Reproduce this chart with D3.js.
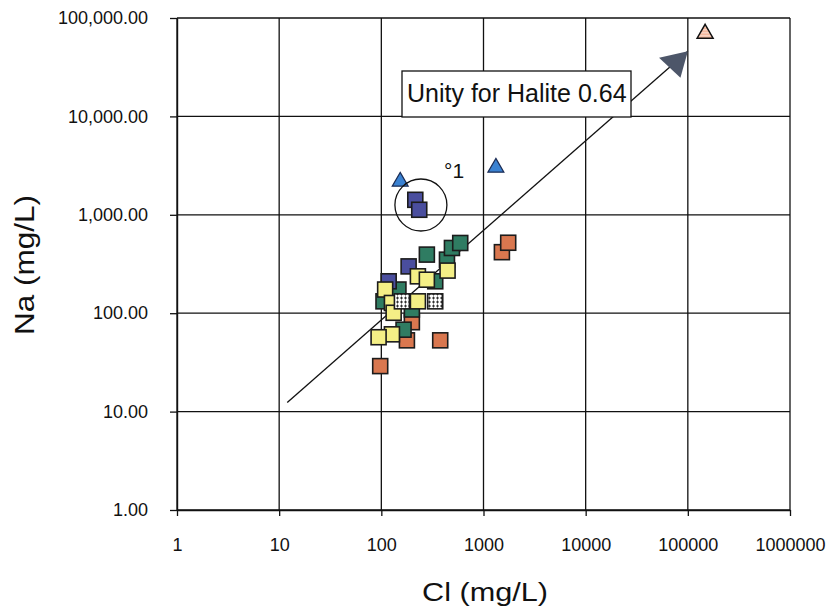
<!DOCTYPE html>
<html>
<head>
<meta charset="utf-8">
<script src="https://cdn.jsdelivr.net/npm/d3@7"></script>
<style>
  html, body { margin: 0; padding: 0; background: #fff; }
  svg { display: block; font-family: "Liberation Sans", Arial, Helvetica, sans-serif; }
</style>
</head>
<body>
<svg id="chart" width="830" height="609"></svg>
<script>
// Axis ticks (log decades)
const xTicks = [1, 10, 100, 1000, 10000, 100000, 1000000];
const yTicks = [1, 10, 100, 1000, 10000, 100000];

// Samples: [Cl mg/L, Na mg/L]
const blueSquares   = [[215, 1420], [235, 1125], [185, 299], [118, 211]];
const orangeSquares = [[199, 81], [178, 53], [377, 53], [97.5, 29], [1514, 417], [1745, 520]];
const greenSquares  = [[279, 394], [439, 350], [491, 460], [592, 517], [337, 211], [147, 174], [199, 109], [165, 68], [105, 132]];
const yellowSquares = [[445, 271], [228, 237], [279, 219], [109, 174], [127, 127], [228, 132], [132, 101], [127, 61], [94, 57]];
const whiteSquares  = [[159, 132], [337, 132]];
const blueTriangles   = [[153, 2177], [1322, 3017]];
const salmonTriangles = [[147600, 69500]];

// Halite reference line (start, arrow tip) and circled group centre
const haliteLine = [[12, 12.4], [100000, 46000]];
const circledGroup = [244, 1258];

const svg = d3.select("#chart");
const x = d3.scaleLog().domain([1, 1e6]).range([177, 790]);
const y = d3.scaleLog().domain([1, 1e5]).range([510, 18]);

const defs = svg.append("defs");
const hatch = defs.append("pattern").attr("id", "hatch")
  .attr("patternUnits", "userSpaceOnUse").attr("width", 4).attr("height", 4);
hatch.append("rect").attr("width", 4).attr("height", 4).attr("fill", "#fff");
hatch.append("path").attr("d", "M0,2H3M1.5,0.5V3.5").attr("stroke", "#222").attr("stroke-width", 0.9);

const stripes = defs.append("pattern").attr("id", "stripes")
  .attr("patternUnits", "userSpaceOnUse").attr("width", 4).attr("height", 3);
stripes.append("rect").attr("width", 4).attr("height", 3).attr("fill", "#f2a888");
stripes.append("rect").attr("y", 1.6).attr("width", 4).attr("height", 1).attr("fill", "#fff");

defs.append("marker").attr("id", "arrow")
  .attr("markerUnits", "userSpaceOnUse")
  .attr("viewBox", "-28 -16 30 32")
  .attr("markerWidth", 30).attr("markerHeight", 32)
  .attr("refX", 0).attr("refY", 0).attr("orient", "auto")
  .append("path").attr("d", "M0,0L-26,-14L-23,15Z").attr("fill", "#4d5669");

// Grid
const grid = svg.append("g").attr("stroke", "#111").attr("stroke-width", 1.3);
grid.selectAll("line.v").data(xTicks).join("line")
  .attr("x1", d => x(d)).attr("x2", d => x(d))
  .attr("y1", y(1e5)).attr("y2", y(1));
grid.selectAll("line.h").data(yTicks).join("line")
  .attr("y1", d => y(d)).attr("y2", d => y(d))
  .attr("x1", x(1)).attr("x2", x(1e6));

// Axes
const yAxis = svg.append("g").attr("transform", `translate(${x(1)},0)`)
  .call(d3.axisLeft(y).tickValues(yTicks).tickFormat(d3.format(",.2f")).tickSizeInner(7).tickSizeOuter(0).tickPadding(22));
const xAxis = svg.append("g").attr("transform", `translate(0,${y(1)})`)
  .call(d3.axisBottom(x).tickValues(xTicks).tickFormat(d3.format("d")).tickSizeInner(6).tickSizeOuter(0).tickPadding(22));
[yAxis, xAxis].forEach(a => {
  a.select(".domain").attr("stroke", "#111").attr("stroke-width", 1.4);
  a.selectAll(".tick line").attr("stroke", "#111").attr("stroke-width", 1.3);
  a.selectAll(".tick text").attr("fill", "#111").style("font-size", "18px")
    .style("font-family", "'Liberation Sans', Arial, sans-serif");
});

// Axis titles
svg.append("text")
  .attr("transform", `translate(34,265) rotate(-90)`)
  .attr("text-anchor", "middle").attr("fill", "#111")
  .attr("textLength", 140).attr("lengthAdjust", "spacingAndGlyphs")
  .style("font-size", "27px").text("Na (mg/L)");
svg.append("text")
  .attr("x", 485).attr("y", 601)
  .attr("text-anchor", "middle").attr("fill", "#111")
  .attr("textLength", 126).attr("lengthAdjust", "spacingAndGlyphs")
  .style("font-size", "26px").text("Cl (mg/L)");

// Halite unity line with arrow
svg.append("line")
  .attr("x1", x(haliteLine[0][0])).attr("y1", y(haliteLine[0][1]))
  .attr("x2", x(haliteLine[1][0])).attr("y2", y(haliteLine[1][1]))
  .attr("stroke", "#111").attr("stroke-width", 1.3)
  .attr("marker-end", "url(#arrow)");

// Label box
svg.append("rect").attr("x", 402).attr("y", 71).attr("width", 229).attr("height", 46)
  .attr("fill", "#fff").attr("stroke", "#111").attr("stroke-width", 1.3);
svg.append("text").attr("x", 407).attr("y", 102).attr("fill", "#111")
  .style("font-size", "25px").text("Unity for Halite 0.64");

// Sample squares
const sq = 15;
function squares(data, fill) {
  svg.append("g").selectAll("rect").data(data).join("rect")
    .attr("x", d => x(d[0]) - sq / 2).attr("y", d => y(d[1]) - sq / 2)
    .attr("width", sq).attr("height", sq)
    .attr("fill", fill).attr("stroke", "#1c1c1c").attr("stroke-width", 1.6);
}
squares(orangeSquares, "#d9774f");
squares(greenSquares, "#2f7c62");
squares(blueSquares, "#4a4e9e");
squares(yellowSquares, "#f4ef86");
squares(whiteSquares, "url(#hatch)");

// Triangles
const tri = d3.symbol().type(d3.symbolTriangle).size(110);
svg.append("g").selectAll("path").data(blueTriangles).join("path")
  .attr("transform", d => `translate(${x(d[0])},${y(d[1])})`)
  .attr("d", tri).attr("fill", "#3a82d2").attr("stroke", "#1b2c55").attr("stroke-width", 1.2);
svg.append("g").selectAll("path").data(salmonTriangles).join("path")
  .attr("transform", d => `translate(${x(d[0])},${y(d[1])})`)
  .attr("d", tri).attr("fill", "url(#stripes)").attr("stroke", "#111").attr("stroke-width", 1.5);

// Circled group and note
svg.append("circle")
  .attr("cx", x(circledGroup[0])).attr("cy", y(circledGroup[1])).attr("r", 26)
  .attr("fill", "none").attr("stroke", "#111").attr("stroke-width", 1.3);
svg.append("text").attr("x", 444).attr("y", 178).attr("fill", "#111")
  .style("font-size", "21px").text("°1");
</script>
</body>
</html>
